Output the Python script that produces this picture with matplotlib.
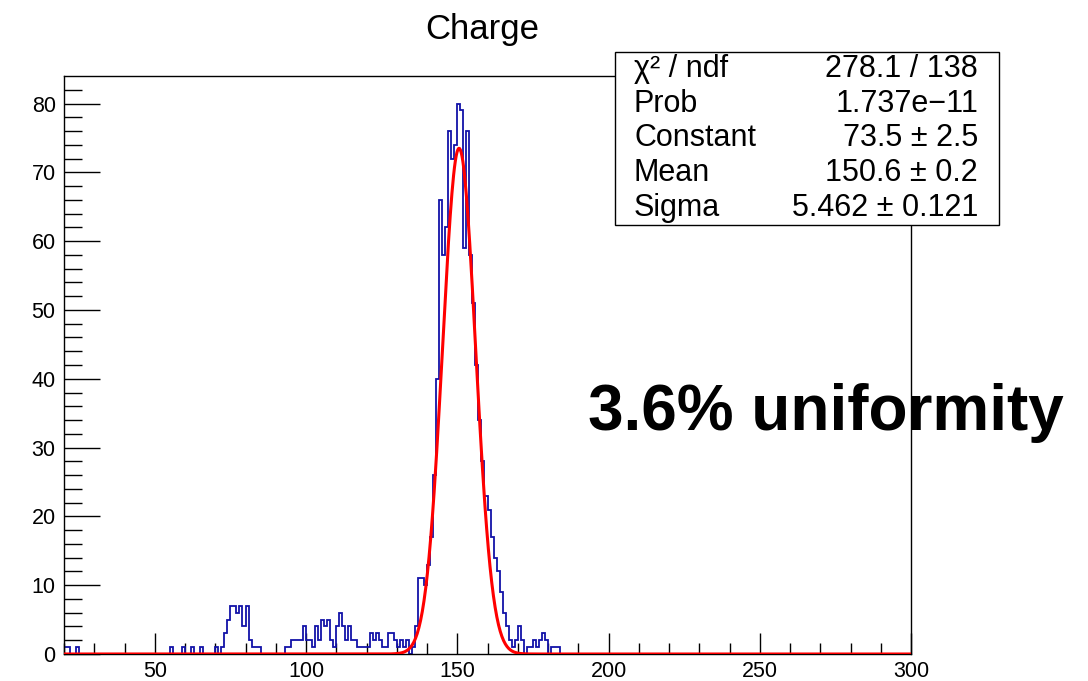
import numpy as np
import matplotlib
matplotlib.use("Agg")
import matplotlib.pyplot as plt
from matplotlib.patches import Rectangle

plt.rcParams['font.family'] = ['Liberation Sans', 'DejaVu Sans']

# histogram: 280 bins of width 1 between 20 and 300, only filled bins listed
x_min, x_max = 20, 300
filled_bins = [20, 21, 24, 55, 59, 62, 65, 70, 72, 73, 74, 75, 76, 77, 78, 79, 80, 81, 82, 83, 84,
               93, 94, 95, 96, 97, 98, 99, 100, 101, 102, 103, 104, 105, 106, 107, 108, 109, 110,
               111, 112, 113, 114, 115, 116, 117, 118, 119, 120, 121, 122, 123, 124, 125, 126,
               127, 128, 129, 130, 131, 132, 133, 135, 136, 137, 138, 139, 140, 141, 142, 143,
               144, 145, 146, 147, 148, 149, 150, 151, 152, 153, 154, 155, 156, 157, 158, 159,
               160, 161, 162, 163, 164, 165, 166, 167, 168, 169, 170, 171, 173, 174, 175, 176,
               177, 178, 179, 181, 182, 183]
filled_counts = [1, 1, 1, 1, 1, 1, 1, 1, 1, 3, 5, 7, 7, 6, 7, 4, 7, 2, 1, 1, 1,
                 1, 1, 2, 2, 2, 2, 4, 2, 2, 1, 4, 2, 5, 4, 5, 2, 1, 4,
                 6, 4, 2, 4, 2, 2, 1, 1, 1, 1, 3, 2, 3, 2, 1, 1,
                 3, 3, 2, 1, 2, 1, 2, 1, 4, 11, 11, 10, 13, 17, 26, 40,
                 66, 58, 62, 76, 72, 74, 80, 79, 59, 76, 58, 51, 42, 34, 28, 23,
                 21, 17, 14, 12, 9, 6, 4, 2, 1, 2, 4, 2, 1, 1, 2,
                 1, 2, 3, 2, 1, 1, 1]

# gaussian fit result
fit_const, fit_mean, fit_sigma = 73.5, 150.6, 5.462
stats_names = ["\u03c7\u00b2 / ndf", "Prob", "Constant", "Mean", "Sigma"]
stats_values = ["278.1 / 138", "1.737e\u221211", "73.5 \u00b1 2.5", "150.6 \u00b1 0.2",
                "5.462 \u00b1 0.121"]

edges = np.arange(x_min, x_max + 1)
counts = np.zeros(len(edges) - 1)
counts[np.array(filled_bins) - x_min] = filled_counts

W, H = 1088, 681
fig = plt.figure(figsize=(W / 100, H / 100), dpi=100)
ax = fig.add_axes([64 / W, 1 - 654 / H, (911 - 64) / W, (654 - 76) / H])

ax.stairs(counts, edges, color='#1212a8', linewidth=1.3, zorder=2)

xf = np.linspace(x_min, x_max, 1001)
yf = fit_const * np.exp(-0.5 * ((xf - fit_mean) / fit_sigma) ** 2)
ax.plot(xf, yf, color='#ff0000', linewidth=2.2, zorder=3)

ax.set_xlim(x_min, x_max)
ax.set_ylim(0, 1.05 * max(filled_counts))

ax.set_xticks(np.arange(50, 301, 50))
ax.set_xticks(np.arange(x_min, x_max + 1, 10), minor=True)
ax.set_yticks(np.arange(0, 81, 10))
ax.set_yticks(np.arange(0, 84, 2), minor=True)
ax.tick_params(axis='x', which='major', direction='in', length=15, width=1, labelsize=15.5, pad=5)
ax.tick_params(axis='x', which='minor', direction='in', length=8, width=1)
ax.tick_params(axis='y', which='major', direction='in', length=26, width=1, labelsize=15.5, pad=6)
ax.tick_params(axis='y', which='minor', direction='in', length=13, width=1)
for s in ax.spines.values():
    s.set_linewidth(1.0)

fig.text(482 / W, 1 - 30 / H, "Charge", ha='center', va='center', fontsize=25)

# fit statistics box
bx0, bx1, by0, by1 = 615, 999, 52, 225
fig.patches.append(Rectangle((bx0 / W, 1 - by1 / H), (bx1 - bx0) / W, (by1 - by0) / H,
                             transform=fig.transFigure, facecolor='white',
                             edgecolor='black', linewidth=1.0, zorder=5))
row_h = (by1 - by0) / len(stats_names)
for i, (name, val) in enumerate(zip(stats_names, stats_values)):
    yc = 1 - (by0 + row_h * (i + 0.5)) / H
    fig.text(634 / W, yc, name, ha='left', va='center', fontsize=22, zorder=6)
    fig.text(978 / W, yc, val, ha='right', va='center', fontsize=22, zorder=6)

fig.text(588 / W, 1 - 430 / H, "3.6% uniformity", ha='left', va='baseline',
         fontsize=46, fontweight='bold')

fig.savefig("out.png", dpi=100)
